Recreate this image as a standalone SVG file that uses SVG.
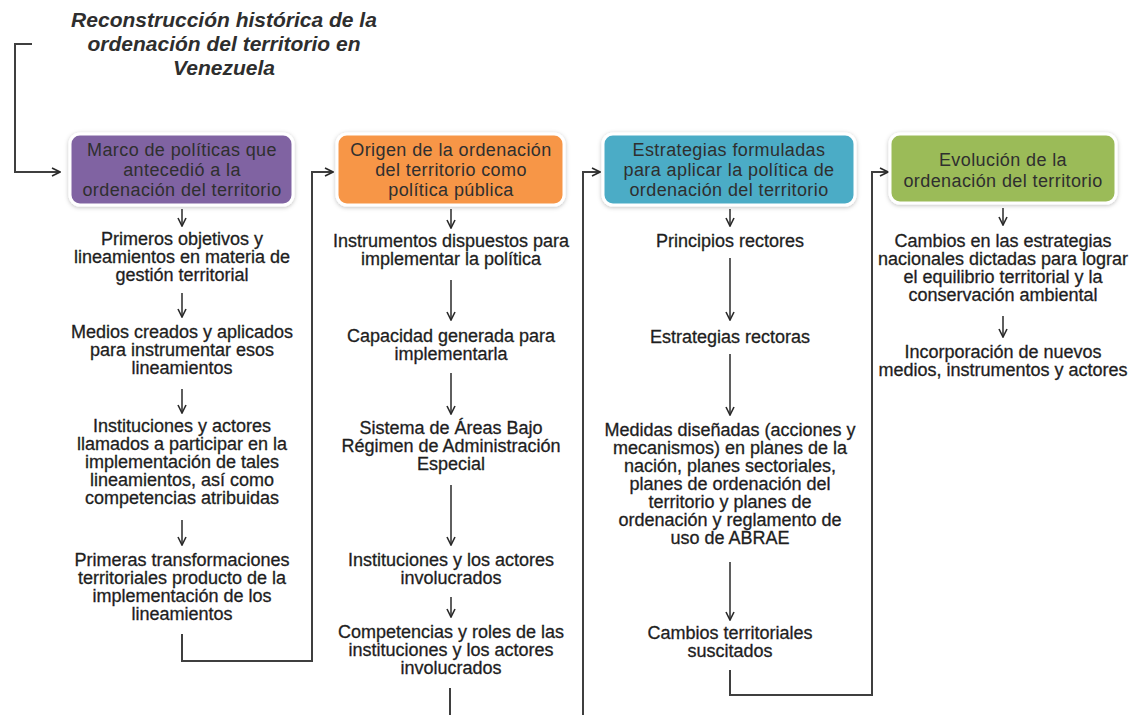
<svg xmlns="http://www.w3.org/2000/svg" width="1138" height="715" viewBox="0 0 1138 715">
<style>
.title{font-family:"Liberation Sans",Arial,sans-serif;font-size:21px;font-weight:bold;font-style:italic;fill:#2e2e2e;text-anchor:middle}
.bt{font-family:"Liberation Sans",Arial,sans-serif;font-size:18px;letter-spacing:0.4px;fill:#2f2f2f;text-anchor:middle}
.tx{font-family:"Liberation Sans",Arial,sans-serif;font-size:18px;fill:#1e1e1e;stroke:#1e1e1e;stroke-width:0.3;text-anchor:middle}
.box{stroke:#ffffff;stroke-width:3;filter:url(#sh)}
.con{fill:none;stroke:#3f3f3f;stroke-width:2;marker-end:url(#arr)}
.con0{fill:none;stroke:#3f3f3f;stroke-width:2}
.sm{fill:none;stroke:#2a2a2a;stroke-width:1.5;marker-end:url(#arr)}
</style>
<defs>
<filter id="sh" x="-10%" y="-20%" width="120%" height="140%">
<feDropShadow dx="0" dy="1" stdDeviation="2" flood-color="#000" flood-opacity="0.25"/>
</filter>
<marker id="arr" viewBox="0 0 10 10" refX="9" refY="5" markerWidth="10" markerHeight="10" markerUnits="userSpaceOnUse" orient="auto">
<path d="M1,1 L9,5 L1,9" fill="none" stroke="#2a2a2a" stroke-width="1.6"/>
</marker>
</defs>
<rect width="1138" height="715" fill="#ffffff"/>

<g id="title">
<text class="title" x="224" y="27">Reconstrucción histórica de la</text>
<text class="title" x="224" y="51">ordenación del territorio en</text>
<text class="title" x="224" y="75">Venezuela</text>
</g>

<g id="connectors">
<path class="con" d="M32,44 H15 V172 H60"/>
<path class="con" d="M182,634 V661 H312 V172 H333"/>
<path class="con" d="M583,715 V172 H600"/>
<path class="con" d="M730,670 V695 H872 V172 H888"/>
<path class="con0" d="M450,688 V715"/>
<path class="sm" d="M182,209 V226"/>
<path class="sm" d="M182,293 V317"/>
<path class="sm" d="M182,389 V413"/>
<path class="sm" d="M182,520 V545"/>
<path class="sm" d="M451,209 V228"/>
<path class="sm" d="M451,280 V320"/>
<path class="sm" d="M451,373 V414"/>
<path class="sm" d="M451,485 V545"/>
<path class="sm" d="M451,597 V617"/>
<path class="sm" d="M730,209 V226"/>
<path class="sm" d="M730,258 V320"/>
<path class="sm" d="M730,354 V415"/>
<path class="sm" d="M730,562 V620"/>
<path class="sm" d="M1003,208 V225"/>
<path class="sm" d="M1003,316 V337"/>
</g>

<g id="n1">
<rect class="box" x="70" y="134" width="223" height="71" rx="10" fill="#8064A2"/>
<text class="bt" x="182" y="156">Marco de políticas que</text>
<text class="bt" x="182" y="176">antecedió a la</text>
<text class="bt" x="182" y="196">ordenación del territorio</text>
</g>
<g id="n2">
<rect class="box" x="337" y="134" width="227" height="71" rx="10" fill="#F79646"/>
<text class="bt" x="451" y="156">Origen de la ordenación</text>
<text class="bt" x="451" y="176">del territorio como</text>
<text class="bt" x="451" y="196">política pública</text>
</g>
<g id="n3">
<rect class="box" x="603" y="134" width="252" height="71" rx="10" fill="#4BACC6"/>
<text class="bt" x="729" y="156">Estrategias formuladas</text>
<text class="bt" x="729" y="176">para aplicar la política de</text>
<text class="bt" x="729" y="196">ordenación del territorio</text>
</g>
<g id="n4">
<rect class="box" x="890" y="134" width="226" height="69" rx="10" fill="#9BBB59"/>
<text class="bt" x="1003" y="166">Evolución de la</text>
<text class="bt" x="1003" y="187">ordenación del territorio</text>
</g>

<g id="c1">
<text class="tx" x="182" y="245">Primeros objetivos y</text>
<text class="tx" x="182" y="263">lineamientos en materia de</text>
<text class="tx" x="182" y="281">gestión territorial</text>
<text class="tx" x="182" y="338">Medios creados y aplicados</text>
<text class="tx" x="182" y="356">para instrumentar esos</text>
<text class="tx" x="182" y="374">lineamientos</text>
<text class="tx" x="182" y="432">Instituciones y actores</text>
<text class="tx" x="182" y="450">llamados a participar en la</text>
<text class="tx" x="182" y="468">implementación de tales</text>
<text class="tx" x="182" y="486">lineamientos, así como</text>
<text class="tx" x="182" y="504">competencias atribuidas</text>
<text class="tx" x="182" y="566">Primeras transformaciones</text>
<text class="tx" x="182" y="584">territoriales producto de la</text>
<text class="tx" x="182" y="602">implementación de los</text>
<text class="tx" x="182" y="620">lineamientos</text>
</g>

<g id="c2">
<text class="tx" x="451" y="247">Instrumentos dispuestos para</text>
<text class="tx" x="451" y="265">implementar la política</text>
<text class="tx" x="451" y="342">Capacidad generada para</text>
<text class="tx" x="451" y="360">implementarla</text>
<text class="tx" x="451" y="434">Sistema de Áreas Bajo</text>
<text class="tx" x="451" y="452">Régimen de Administración</text>
<text class="tx" x="451" y="470">Especial</text>
<text class="tx" x="451" y="566">Instituciones y los actores</text>
<text class="tx" x="451" y="584">involucrados</text>
<text class="tx" x="451" y="638">Competencias y roles de las</text>
<text class="tx" x="451" y="656">instituciones y los actores</text>
<text class="tx" x="451" y="674">involucrados</text>
</g>

<g id="c3">
<text class="tx" x="730" y="247">Principios rectores</text>
<text class="tx" x="730" y="343">Estrategias rectoras</text>
<text class="tx" x="730" y="436">Medidas diseñadas (acciones y</text>
<text class="tx" x="730" y="454">mecanismos) en planes de la</text>
<text class="tx" x="730" y="472">nación, planes sectoriales,</text>
<text class="tx" x="730" y="490">planes de ordenación del</text>
<text class="tx" x="730" y="508">territorio y planes de</text>
<text class="tx" x="730" y="526">ordenación y reglamento de</text>
<text class="tx" x="730" y="544">uso de ABRAE</text>
<text class="tx" x="730" y="639">Cambios territoriales</text>
<text class="tx" x="730" y="657">suscitados</text>
</g>

<g id="c4">
<text class="tx" x="1003" y="247">Cambios en las estrategias</text>
<text class="tx" x="1003" y="265">nacionales dictadas para lograr</text>
<text class="tx" x="1003" y="283">el equilibrio territorial y la</text>
<text class="tx" x="1003" y="301">conservación ambiental</text>
<text class="tx" x="1003" y="358">Incorporación de nuevos</text>
<text class="tx" x="1003" y="376">medios, instrumentos y actores</text>
</g>
</svg>
